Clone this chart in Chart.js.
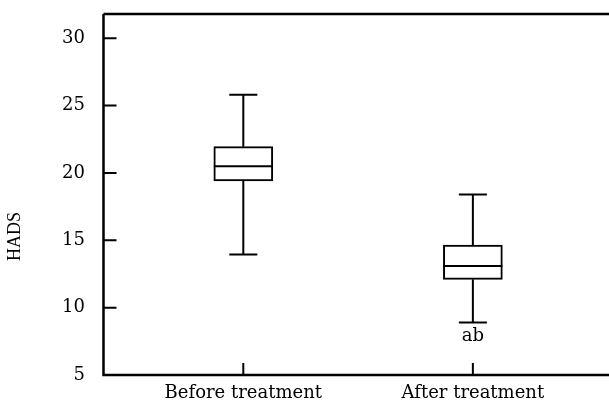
<!DOCTYPE html>
<html>
<head>
<meta charset="utf-8">
<script src="https://cdn.jsdelivr.net/npm/chart.js@4.4.1/dist/chart.umd.min.js"></script>
<style>
  html, body { margin: 0; padding: 0; background: #fff; }
  #wrap { width: 609px; height: 404px; position: relative; }
</style>
</head>
<body>
<div id="wrap"><canvas id="chart"></canvas></div>
<script>
// datos (HADS antes / despues)
const grupos    = ['Before treatment', 'After treatment'];
const posX      = [1, 2];
const minimos   = [13.95, 8.9];
const q1        = [19.4, 12.1];
const medianas  = [20.5, 13.1];
const q3        = [21.95, 14.65];
const maximos   = [25.8, 18.4];
const letras    = ['', 'ab'];
const letrasY   = [null, 7.85];
const yTicks    = [5, 10, 15, 20, 25, 30];

const FUENTE = '"DejaVu Serif", serif';

const cajas = {
  id: 'cajas',
  afterDatasetsDraw(chart) {
    const { ctx, chartArea: a, scales: { x, y } } = chart;
    ctx.save();
    ctx.strokeStyle = '#000';
    ctx.fillStyle = '#000';

    // bigotes y mediana
    ctx.lineWidth = 2;
    posX.forEach((p, i) => {
      const cx = x.getPixelForValue(p);
      const meta = chart.getDatasetMeta(0).data[i];
      const half = meta.width / 2;
      ctx.beginPath();
      ctx.moveTo(cx, y.getPixelForValue(q3[i]));
      ctx.lineTo(cx, y.getPixelForValue(maximos[i]));
      ctx.moveTo(cx, y.getPixelForValue(q1[i]));
      ctx.lineTo(cx, y.getPixelForValue(minimos[i]));
      ctx.moveTo(cx - 14, y.getPixelForValue(maximos[i]));
      ctx.lineTo(cx + 14, y.getPixelForValue(maximos[i]));
      ctx.moveTo(cx - 14, y.getPixelForValue(minimos[i]));
      ctx.lineTo(cx + 14, y.getPixelForValue(minimos[i]));
      ctx.moveTo(cx - half, y.getPixelForValue(medianas[i]));
      ctx.lineTo(cx + half, y.getPixelForValue(medianas[i]));
      ctx.stroke();

      if (letras[i]) {
        ctx.font = '18px ' + FUENTE;
        ctx.textAlign = 'center';
        ctx.textBaseline = 'middle';
        ctx.fillText(letras[i], cx, y.getPixelForValue(letrasY[i]));
      }
    });

    // marco: eje izq, eje inferior, linea superior
    ctx.lineWidth = 2.5;
    ctx.beginPath();
    ctx.moveTo(a.left, a.top);
    ctx.lineTo(a.left, a.bottom);
    ctx.lineTo(a.right, a.bottom);
    ctx.moveTo(a.left, a.top);
    ctx.lineTo(a.right, a.top);
    ctx.stroke();

    // marcas hacia adentro
    ctx.lineWidth = 2;
    ctx.beginPath();
    yTicks.forEach(v => {
      const py = y.getPixelForValue(v);
      ctx.moveTo(a.left, py);
      ctx.lineTo(a.left + 13, py);
    });
    posX.forEach(p => {
      const px = x.getPixelForValue(p);
      ctx.moveTo(px, a.bottom);
      ctx.lineTo(px, a.bottom - 12);
    });
    ctx.stroke();

    // titulo eje Y
    ctx.font = '18px "Liberation Serif", serif';
    ctx.textAlign = 'center';
    ctx.textBaseline = 'middle';
    ctx.translate(15.5, (a.top + a.bottom) / 2 + 42);
    ctx.rotate(-Math.PI / 2);
    ctx.fillText('HADS', 0, 0);
    ctx.restore();
  }
};

new Chart(document.getElementById('chart'), {
  type: 'bar',
  data: {
    datasets: [{
      data: posX.map((p, i) => ({ x: p, y: [q1[i], q3[i]] })),
      backgroundColor: '#fff',
      borderColor: '#000',
      borderWidth: 2,
      borderSkipped: false,
      barThickness: 59
    }]
  },
  options: {
    responsive: true,
    maintainAspectRatio: false,
    animation: false,
    layout: { padding: { top: 14, left: 0, right: 0, bottom: 0 } },
    plugins: { legend: { display: false }, tooltip: { enabled: false } },
    scales: {
      x: {
        type: 'linear',
        offset: false,
        min: 0.391,
        max: 2.593,
        grid: { display: false, drawTicks: false, offset: false },
        border: { display: false },
        afterBuildTicks: s => { s.ticks = posX.map(v => ({ value: v })); },
        afterFit: s => { s.height = 29; s.paddingLeft = 0; s.paddingRight = 0; },
        ticks: {
          padding: 8,
          color: '#000',
          font: { family: FUENTE, size: 18 },
          callback: (v, i) => grupos[i]
        }
      },
      y: {
        min: 5,
        max: 31.8,
        grid: { display: false, drawTicks: false },
        border: { display: false },
        afterBuildTicks: s => { s.ticks = yTicks.map(v => ({ value: v })); },
        afterFit: s => { s.width = 103.5; s.paddingTop = 0; s.paddingBottom = 0; },
        ticks: {
          padding: 18.5,
          color: '#000',
          font: { family: FUENTE, size: 18 }
        }
      }
    }
  },
  plugins: [cajas]
});
</script>
</body>
</html>
